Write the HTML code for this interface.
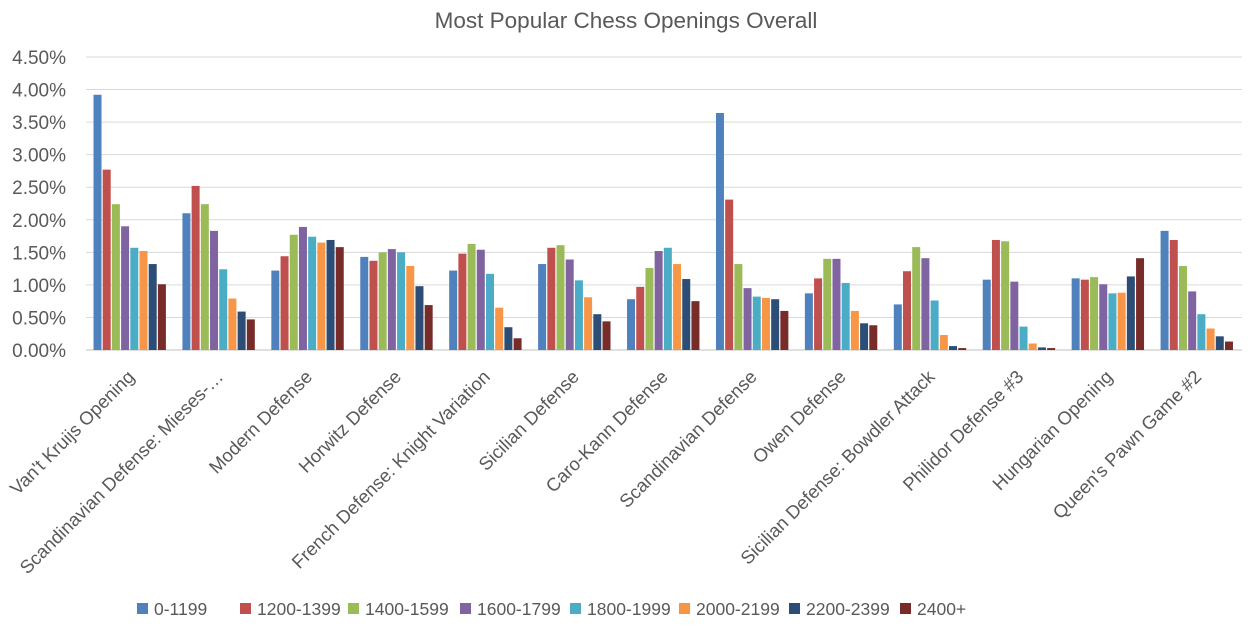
<!DOCTYPE html>
<html><head><meta charset="utf-8"><style>
html,body{margin:0;padding:0;background:#fff;}
svg{display:block;font-family:"Liberation Sans",sans-serif;}
</style></head><body>
<svg id="c" width="1251" height="631" xmlns="http://www.w3.org/2000/svg">
<rect width="1251" height="631" fill="#fff"/>
<text x="626" y="28" text-anchor="middle" font-size="22.5" fill="#595959">Most Popular Chess Openings Overall</text>
</svg>
<script>
var s=document.getElementById('c'),ns='http://www.w3.org/2000/svg';
function el(t,a,txt){var e=document.createElementNS(ns,t);for(var k in a)e.setAttribute(k,a[k]);if(txt!=null)e.textContent=txt;s.appendChild(e);return e;}
var D=[[3.92,2.77,2.24,1.90,1.57,1.52,1.32,1.01],[2.10,2.52,2.24,1.83,1.24,0.79,0.59,0.47],[1.22,1.44,1.77,1.89,1.74,1.65,1.69,1.58],[1.43,1.37,1.50,1.55,1.50,1.29,0.98,0.69],[1.22,1.48,1.63,1.54,1.17,0.65,0.35,0.18],[1.32,1.57,1.61,1.39,1.07,0.81,0.55,0.44],[0.78,0.97,1.26,1.52,1.57,1.32,1.09,0.75],[3.64,2.31,1.32,0.95,0.82,0.80,0.78,0.60],[0.87,1.10,1.40,1.40,1.03,0.60,0.41,0.38],[0.70,1.21,1.58,1.41,0.76,0.23,0.06,0.03],[1.08,1.69,1.67,1.05,0.36,0.10,0.04,0.03],[1.10,1.08,1.12,1.01,0.87,0.88,1.13,1.41],[1.83,1.69,1.29,0.90,0.55,0.33,0.21,0.13]];
var y0=350,ppu=293/4.5,L=86,R=1242;
for(var i=0;i<=9;i++){var v=i*0.5,y=y0-v*ppu;
 el('line',{x1:L,x2:R,y1:y,y2:y,stroke:i==0?'#bfbfbf':'#d9d9d9','stroke-width':1});
 el('text',{x:66,y:y+7,'text-anchor':'end','font-size':19,fill:'#595959'},v.toFixed(2)+'%');}
var cols=['#4F81BD','#C0504D','#9BBB59','#8064A2','#4BACC6','#F79646','#2C4D75','#772C2A'];
var cats=["Van't Kruijs Opening","Scandinavian Defense: Mieses-…","Modern Defense","Horwitz Defense","French Defense: Knight Variation","Sicilian Defense","Caro-Kann Defense","Scandinavian Defense","Owen Defense","Sicilian Defense: Bowdler Attack","Philidor Defense #3","Hungarian Opening","Queen's Pawn Game #2"];
var cw=(R-L)/13;
for(var g=0;g<13;g++){var x0=L+g*cw+7.5;
 for(var b=0;b<8;b++){var h=D[g][b]*ppu;el('rect',{x:x0+b*9.2,y:y0-h,width:8,height:h,fill:cols[b]});}
 var cx=L+g*cw+cw/2+5,cy=378;
 el('text',{x:cx,y:cy,'text-anchor':'end','font-size':18.5,fill:'#595959',transform:'rotate(-45 '+cx+' '+cy+')'},cats[g]);}
var lg=['0-1199','1200-1399','1400-1599','1600-1799','1800-1999','2000-2199','2200-2399','2400+'],lx=[137,240,348,460,570,679,789,900];
for(var i=0;i<8;i++){el('rect',{x:lx[i],y:603,width:11,height:11,fill:cols[i]});el('text',{x:lx[i]+17,y:615,'font-size':17.5,fill:'#595959'},lg[i]);}
</script>
</body></html>
